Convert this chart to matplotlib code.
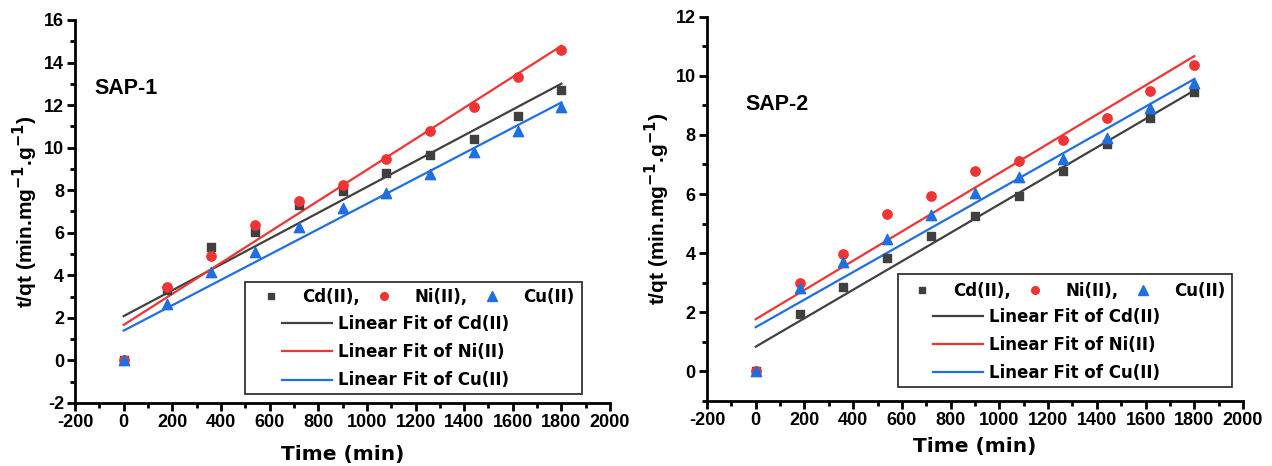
import numpy as np
import matplotlib
matplotlib.use("Agg")
import matplotlib.pyplot as plt
from matplotlib.patches import Rectangle
from matplotlib.lines import Line2D
from matplotlib.ticker import MultipleLocator, AutoMinorLocator

plt.rcParams['font.family'] = ['Liberation Sans', 'DejaVu Sans']
plt.rcParams['font.weight'] = 'bold'
plt.rcParams['axes.unicode_minus'] = False

# time points (min)
time = [0, 180, 360, 540, 720, 900, 1080, 1260, 1440, 1620, 1800]

# SAP-1 t/qt values
sap1_cd = [0, 3.3, 5.35, 6.05, 7.3, 7.95, 8.8, 9.65, 10.4, 11.5, 12.7]
sap1_ni = [0, 3.45, 4.9, 6.35, 7.5, 8.25, 9.45, 10.8, 11.9, 13.3, 14.6]
sap1_cu = [0, 2.65, 4.15, 5.1, 6.25, 7.15, 7.85, 8.75, 9.8, 10.8, 11.9]

# SAP-2 t/qt values
sap2_cd = [0, 1.94, 2.87, 3.83, 4.59, 5.27, 5.92, 6.78, 7.68, 8.56, 9.44]
sap2_ni = [0, 2.99, 3.97, 5.32, 5.92, 6.79, 7.13, 7.83, 8.56, 9.5, 10.37]
sap2_cu = [0, 2.82, 3.7, 4.47, 5.3, 6.05, 6.57, 7.18, 7.89, 8.9, 9.75]

c_cd = '#404040'
c_ni = '#ee3535'
c_cu = '#1f6fe0'

legfont = {'family': 'DejaVu Sans', 'size': 12, 'weight': 'bold'}


def draw_panel(ax, cd, ni, cu, ylim, name, name_pos, box, row1, rows, xpad):
    x = np.array(time)
    ax.scatter(x, cd, marker='s', s=40, color=c_cd, zorder=3)
    ax.scatter(x, ni, marker='o', s=45, color=c_ni, zorder=3)
    ax.scatter(x, cu, marker='^', s=55, color=c_cu, zorder=4)
    xs = np.array([0, 1800])
    for y, c in [(cd, c_cd), (ni, c_ni), (cu, c_cu)]:
        k, b = np.polyfit(x, y, 1)
        ax.plot(xs, k * xs + b, color=c, lw=1.6, zorder=2)

    ax.set_xlim(-200, 2000)
    ax.set_ylim(*ylim)
    ax.xaxis.set_major_locator(MultipleLocator(200))
    ax.yaxis.set_major_locator(MultipleLocator(2))
    ax.xaxis.set_minor_locator(AutoMinorLocator(2))
    ax.yaxis.set_minor_locator(AutoMinorLocator(2))
    for s in ['top', 'right']:
        ax.spines[s].set_visible(False)
    for s in ['left', 'bottom']:
        ax.spines[s].set_linewidth(2)
    ax.tick_params(which='major', direction='out', length=6, width=2, labelsize=13, pad=2)
    ax.tick_params(which='minor', direction='out', length=3.5, width=2)
    ax.set_xlabel('Time (min)', fontsize=14.5, fontweight='bold', family='DejaVu Sans', labelpad=xpad)
    ax.set_ylabel('t/qt (min.mg$\\mathbf{^{-1}}$.g$\\mathbf{^{-1}}$)', fontsize=15,
                  fontweight='bold', labelpad=3)
    ax.text(name_pos[0], name_pos[1], name, transform=ax.transAxes, fontsize=15.5,
            fontweight='bold', va='center', ha='left')

    # legend box
    x0, y0, x1, y1 = box
    ax.add_patch(Rectangle((x0, y0), x1 - x0, y1 - y0, transform=ax.transAxes,
                           fill=True, facecolor='white', edgecolor='#333333', lw=1.3, zorder=5))
    hs = [Line2D([], [], ls='none', marker='s', ms=5, color=c_cd),
          Line2D([], [], ls='none', marker='o', ms=5.5, color=c_ni),
          Line2D([], [], ls='none', marker='^', ms=6.5, color=c_cu)]
    leg1 = ax.legend(hs, ['Cd(II),', 'Ni(II),', 'Cu(II)'], ncol=3, loc='center left',
                     bbox_to_anchor=row1, frameon=False, prop=legfont, handlelength=1.0,
                     handletextpad=1.35, columnspacing=0.95, borderaxespad=0, borderpad=0)
    leg1.set_zorder(6)
    ax.add_artist(leg1)
    hl = [Line2D([], [], color=c_cd, lw=1.6),
          Line2D([], [], color=c_ni, lw=1.6),
          Line2D([], [], color=c_cu, lw=1.6)]
    leg2 = ax.legend(hl, ['Linear Fit of Cd(II)', 'Linear Fit of Ni(II)', 'Linear Fit of Cu(II)'],
                     loc='center left', bbox_to_anchor=rows, frameon=False, prop=legfont,
                     handlelength=3.0, handletextpad=0.36, labelspacing=0.62,
                     borderaxespad=0, borderpad=0)
    leg2.set_zorder(6)


fig = plt.figure(figsize=(12.72, 4.66), dpi=100)
ax1 = fig.add_axes([0.0590, 0.1352, 0.4206, 0.8219])
ax2 = fig.add_axes([0.5558, 0.1395, 0.4214, 0.8247])

draw_panel(ax1, sap1_cd, sap1_ni, sap1_cu, (-2, 16), 'SAP-1', (0.037, 0.822),
           (0.318, 0.0235, 0.948, 0.316), (0.351, 0.2775), (0.386, 0.133), 10)
draw_panel(ax2, sap2_cd, sap2_ni, sap2_cu, (-1, 12), 'SAP-2', (0.071, 0.771),
           (0.356, 0.036, 0.980, 0.330), (0.386, 0.287), (0.421, 0.1457), 6)

fig.canvas.draw()
for ax in (ax1, ax2):
    for lab in ax.get_xticklabels() + ax.get_yticklabels():
        lab.set_fontweight('bold')

fig.savefig('out.png', dpi=100)
